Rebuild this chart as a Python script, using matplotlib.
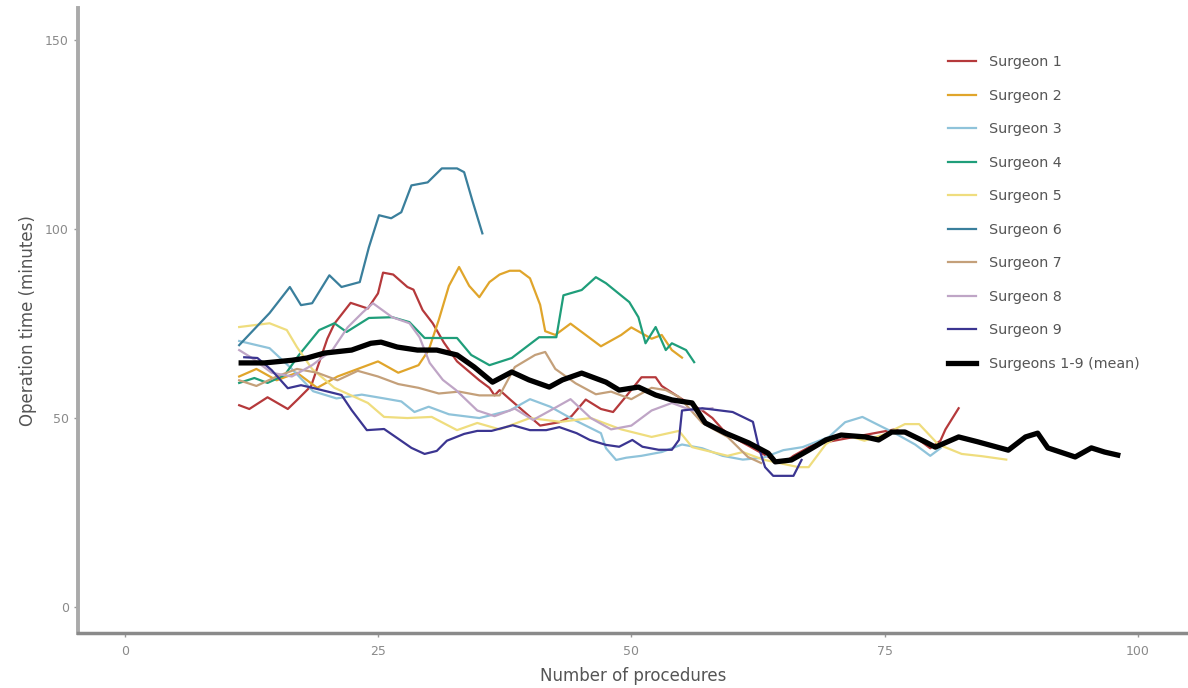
import matplotlib
matplotlib.use("Agg")
import matplotlib.pyplot as plt

# Learning curves: rolling operation time per surgeon
s1_x = [11.3, 12.3, 14.1, 16.1, 17.1, 18.4, 20, 20.7, 22.3, 24, 25, 25.5, 26.5, 27.9, 28.5, 29.4, 30.4,
        31.5, 32.8, 35, 36, 36.5, 37, 38, 41, 42.9, 44.1, 45.5, 47, 48.2, 49.5, 51, 52.4, 53, 55, 57,
        58, 59, 60, 62, 64, 65, 66, 68, 70, 72, 74, 76, 78, 79.5, 80.5, 81, 82.3]
s1_y = [53.4, 52.4, 55.5, 52.4, 55.0, 58.5, 71, 75, 80.5, 79, 83, 88.5, 88, 84.7, 84, 78.6, 75.1,
        70, 65, 60, 58, 56, 57.4, 55, 48, 48.9, 50.5, 54.9, 52.4, 51.6, 55.8, 60.8, 60.8, 58.5, 55, 52,
        50, 47, 45, 42, 39, 38, 40, 43, 44, 45, 46, 47, 45, 42, 44, 47, 52.6]

s2_x = [11.3, 13, 15, 17, 19, 21, 23, 25, 27, 29, 30, 31, 32, 33, 34, 35, 36, 37, 38, 39, 40, 41,
        41.5, 42.5, 44, 45, 47, 49, 50, 52, 53, 54, 55]
s2_y = [61, 63, 60, 62, 58, 61, 63, 65, 62, 64, 68, 76, 85, 90, 85, 82, 86, 88, 89, 89, 87, 80,
        73, 72, 75, 73, 69, 72, 74, 71, 72, 68, 66]

s3_x = [11.3, 14.3, 16.5, 18.6, 20.9, 23.4, 25.6, 27.3, 28.6, 30, 32, 35, 38, 40, 42, 44, 47, 47.5,
        48.5, 49.5, 51, 53, 55, 57, 59, 61, 63, 65, 66.9, 69.5, 71.1, 72.8, 74.5, 76, 78, 79.5, 80.5]
s3_y = [70.4, 68.5, 63, 57.1, 55.2, 56.2, 55.2, 54.4, 51.6, 53, 51, 50, 52, 55, 53, 50, 46, 42,
        38.9, 39.5, 40, 41, 43, 42, 40, 39, 39.5, 41.5, 42.3, 45, 48.9, 50.3, 48, 46, 43, 40, 42]

s4_x = [11.3, 12.8, 14.1, 15.8, 17.2, 19.2, 20.7, 21.9, 24.1, 26.4, 28.1, 29.6, 32.8, 34.2, 36.0,
        38.2, 40.9, 42.6, 43.3, 45.1, 46.5, 47.5, 49.8, 50.7, 51.4, 52.4, 53.4, 54.0, 55.4, 56.2]
s4_y = [59.3, 60.6, 59.3, 61.4, 66.7, 73.3, 75.1, 72.8, 76.5, 76.7, 75.4, 71.2, 71.2, 66.7, 64.0,
        65.9, 71.4, 71.4, 82.5, 83.9, 87.3, 85.7, 80.7, 76.7, 69.8, 74.1, 68.0, 69.8, 68.0, 64.8]

s5_x = [11.3, 14.3, 16.0, 17.0, 18.5, 20.7, 24, 25.6, 27.9, 30.3, 32.8, 34.8, 37, 40, 43, 46, 49,
        52, 54.7, 56, 59.5, 61, 63, 66.5, 67.5, 69.2, 70.8, 73, 75.1, 77, 78.4, 80.3, 82.6, 84.6, 87]
s5_y = [74.1, 75.1, 73.3, 68.8, 63, 58, 54, 50.3, 50.0, 50.3, 46.8, 48.7, 47, 50, 49, 50, 47,
        45, 46.6, 42.3, 40, 41, 39, 37, 37, 43.1, 45.8, 44, 45.8, 48.4, 48.4, 43, 40.5, 39.9, 39]

s6_x = [11.3, 14.3, 16.3, 17.4, 18.5, 20.2, 21.4, 23.2, 24.1, 25.1, 26.3, 27.3, 28.3, 29.9, 31.3,
        32.8, 33.5, 34.3, 35.3]
s6_y = [69.3, 77.8, 84.7, 79.9, 80.4, 87.8, 84.7, 86.0, 95.2, 103.7, 102.9, 104.5, 111.6, 112.4,
        116.1, 116.1, 115.1, 107.7, 98.9]

s7_x = [11.3, 13, 15, 17, 19, 21, 23, 25, 27, 29, 31, 33, 35, 37, 38.5, 40.5, 41.5, 42.5, 44.5,
        46.5, 48, 50, 52, 53.4, 54.7, 57, 59.5, 61.5, 62.8]
s7_y = [60, 58.5, 61, 63, 62, 60, 62.5, 61, 59, 58, 56.5, 57, 56, 56, 63.5, 66.7, 67.5, 63, 59.2,
        56.3, 57, 55, 58, 57.4, 55.6, 48.7, 45, 39.7, 38.1]

s8_x = [11.3, 12.5, 14.5, 16.5, 18.5, 20.5, 22, 23.5, 24.5, 26.4, 28.1, 29.1, 30.1, 31.4, 32.7,
        34.8, 36.5, 38.5, 40.3, 42, 44, 46, 48, 50, 52, 54, 56, 58]
s8_y = [68, 66, 62, 61, 64, 68, 74, 78, 80.4, 76.7, 75.1, 71.4, 64.6, 60.1, 57.4,
        52, 50.5, 52.5, 49.5, 52, 55, 50, 47, 48, 52, 54, 52, 52.6]

s9_x = [11.8, 13.1, 14.5, 16.1, 17.4, 18.7, 21.4, 22.4, 23.9, 25.6, 26.9, 28.3, 29.6, 30.8, 31.8,
        33.5, 34.8, 36.2, 38.3, 40, 41.6, 42.9, 44.6, 45.9, 47.5, 48.8, 50.1, 51.1, 52.7, 54, 54.7,
        55, 57, 60, 62, 62.6, 63.2, 64, 66, 66.8]
s9_y = [66.1, 65.9, 62.7, 57.9, 58.7, 57.9, 56.1, 52.1, 46.8, 47.1, 44.7, 42.1, 40.5, 41.3, 44.0,
        45.8, 46.6, 46.6, 48.1, 46.8, 46.8, 47.6, 46.0, 44.2, 42.9, 42.4, 44.2, 42.4, 41.6, 41.6, 44.2,
        52, 52.6, 51.6, 49, 42, 37, 34.7, 34.7, 38.9]

mean_x = [11.5, 13.8, 16.5, 18.0, 19.7, 22.4, 24.3, 25.3, 26.9, 28.9, 30.8, 32.8, 34.5, 36.3, 38.2,
          39.9, 41.9, 43.2, 45.1, 47.5, 48.8, 50.7, 52.4, 54.0, 56.0, 57.3, 59.3, 61.6, 63.5, 64.2,
          65.8, 67.5, 69.2, 70.7, 73.1, 74.4, 75.7, 77.0, 79.0, 80.0, 82.3, 84.2, 87.2, 88.9, 90.1,
          91.1, 93.8, 95.4, 96.7, 98.0]
mean_y = [64.6, 64.6, 65.3, 65.9, 67.2, 68.0, 69.8, 70.1, 68.8, 68.0, 68.0, 66.7, 63.5, 59.5, 62.2,
          60.1, 58.2, 60.1, 61.9, 59.5, 57.4, 58.2, 56.1, 54.8, 54.0, 48.7, 46.0, 43.4, 40.7, 38.4,
          38.9, 41.5, 44.2, 45.5, 45.0, 44.2, 46.3, 46.3, 43.7, 42.3, 45.0, 43.7, 41.5, 45.0, 46.0,
          42.1, 39.7, 42.1, 41.0, 40.2]

series = [(s1_x, s1_y), (s2_x, s2_y), (s3_x, s3_y), (s4_x, s4_y), (s5_x, s5_y),
          (s6_x, s6_y), (s7_x, s7_y), (s8_x, s8_y), (s9_x, s9_y)]
labels = ["Surgeon 1", "Surgeon 2", "Surgeon 3", "Surgeon 4", "Surgeon 5",
          "Surgeon 6", "Surgeon 7", "Surgeon 8", "Surgeon 9"]
colors = ["#b5393b", "#e0a52b", "#8fc3da", "#1f9e7a", "#efdd7e",
          "#3a7f9c", "#c4a07a", "#bfa5c6", "#3b3591"]

fig = plt.figure(figsize=(11.88, 6.88), dpi=100)
ax = fig.add_axes([0.0657, 0.08, 0.934, 0.908])

for (xs, ys), lab, col in zip(series, labels, colors):
    ax.plot(xs, ys, color=col, lw=1.6, label=lab)
ax.plot(mean_x, mean_y, color="black", lw=3.8, label="Surgeons 1-9 (mean)")

ax.set_xlim(-4.6, 104.9)
ax.set_ylim(-6.9, 158.5)
ax.set_xticks([0, 25, 50, 75, 100])
ax.set_yticks([0, 50, 100, 150])

for side in ["top", "right"]:
    ax.spines[side].set_visible(False)
ax.spines["left"].set_color("#aaaaaa")
ax.spines["left"].set_linewidth(2.8)
ax.spines["bottom"].set_color("#8a8a8a")
ax.spines["bottom"].set_linewidth(2.5)
ax.tick_params(colors="#999999", labelcolor="#8a8a8a", labelsize=9, length=3, width=1)
ax.tick_params(axis="x", pad=6)

ax.set_xlabel("Number of procedures", fontsize=12, color="#555555", labelpad=6)
ax.set_ylabel("Operation time (minutes)", fontsize=12, color="#555555", labelpad=6)

leg = ax.legend(loc="upper left", bbox_to_anchor=(0.772, 0.945), frameon=False,
                fontsize=10.3, labelspacing=1.36, handlelength=2.0, handletextpad=0.9)
for t in leg.get_texts():
    t.set_color("#555555")

fig.savefig("out.png", dpi=100)
